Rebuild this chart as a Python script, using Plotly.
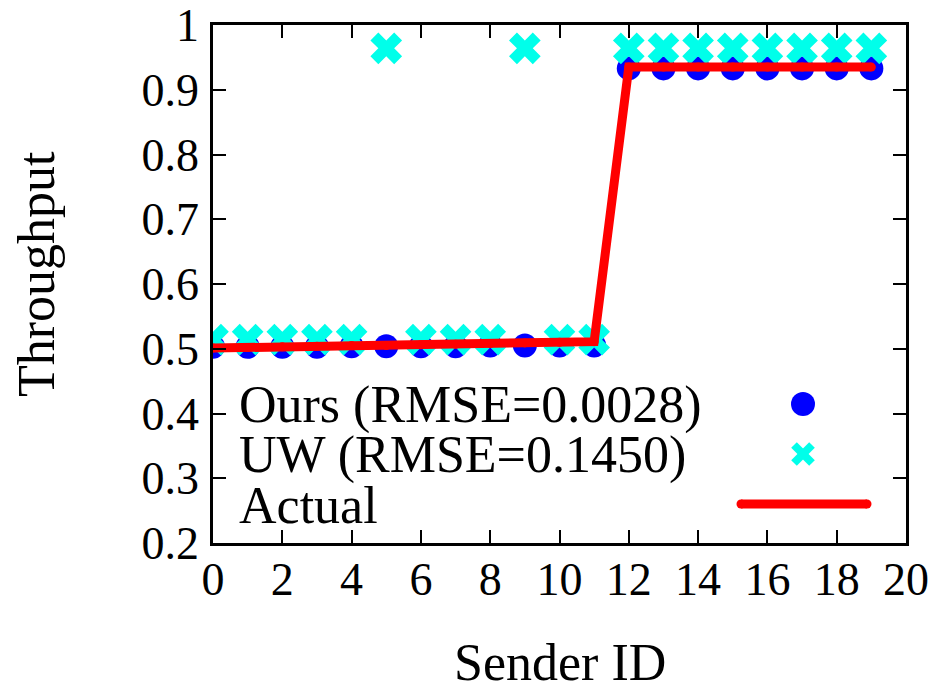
import plotly.graph_objects as go

sender_id = list(range(20))
ours = [0.503, 0.503, 0.503, 0.503, 0.504, 0.504, 0.504, 0.504, 0.505, 0.505, 0.505, 0.505,
        0.933, 0.933, 0.933, 0.933, 0.933, 0.933, 0.933, 0.933]
uw = [0.514, 0.514, 0.514, 0.514, 0.514, 0.964, 0.514, 0.514, 0.514, 0.964, 0.514, 0.514,
      0.964, 0.964, 0.964, 0.964, 0.964, 0.964, 0.964, 0.964]
actual = [0.501, 0.502, 0.503, 0.504, 0.505, 0.505, 0.506, 0.507, 0.508, 0.509, 0.510, 0.511,
          0.935, 0.935, 0.935, 0.935, 0.935, 0.935, 0.935, 0.935]
legend_labels = ["Ours (RMSE=0.0028)", "UW (RMSE=0.1450)", "Actual"]
x_title = "Sender ID"
y_title = "Throughput"
x_ticks = list(range(0, 21, 2))
y_ticks = [0.2, 0.3, 0.4, 0.5, 0.6, 0.7, 0.8, 0.9, 1.0]
y_tick_text = ["0.2", "0.3", "0.4", "0.5", "0.6", "0.7", "0.8", "0.9", "1"]

BLUE = "#0000FF"
CYAN = "#00FFEA"
RED = "#FF0000"
FONT = "'Liberation Serif', 'DejaVu Serif', serif"

fig = go.Figure()
fig.add_trace(go.Scatter(x=sender_id, y=ours, mode="markers", name=legend_labels[0],
                         marker=dict(symbol="circle", size=24, color=BLUE, line=dict(width=0))))
fig.add_trace(go.Scatter(x=sender_id, y=uw, mode="markers", name=legend_labels[1],
                         marker=dict(symbol="x", size=28, color=CYAN, line=dict(width=0))))
fig.add_trace(go.Scatter(x=sender_id, y=actual, mode="lines+markers", name=legend_labels[2],
                         line=dict(color=RED, width=9),
                         marker=dict(symbol="circle", size=9, color=RED, line=dict(width=0))))

W, H = 941, 691
L, R, T, B = 213, 35, 25, 148
pw, ph = W - L - R, H - T - B

def px(x):
    return (x - L) / pw

def py(y):
    return (H - B - y) / ph

rows_y = [404, 454, 504]
shapes = []
annotations = []
for lbl, yy in zip(legend_labels, rows_y):
    annotations.append(dict(text=lbl, xref="paper", yref="paper", x=px(237), y=py(yy + 1),
                            xanchor="left", yanchor="middle", showarrow=False,
                            font=dict(family=FONT, size=52, color="black")))
# axis titles
annotations.append(dict(text=x_title, xref="paper", yref="paper", x=px(560), y=py(662),
                        xanchor="center", yanchor="middle", showarrow=False,
                        font=dict(family=FONT, size=52, color="black")))
annotations.append(dict(text=y_title, xref="paper", yref="paper", x=px(36), y=py(274),
                        xanchor="center", yanchor="middle", showarrow=False, textangle=-90,
                        font=dict(family=FONT, size=52, color="black")))
# legend keys
shapes.append(dict(type="circle", xref="paper", yref="paper", x0=px(791), x1=px(815),
                   y0=py(rows_y[0] + 12), y1=py(rows_y[0] - 12), fillcolor=BLUE, line=dict(width=0)))
d = 9
for s in (1, -1):
    shapes.append(dict(type="line", xref="paper", yref="paper", x0=px(803 - d), x1=px(803 + d),
                       y0=py(rows_y[1] - s * d), y1=py(rows_y[1] + s * d),
                       line=dict(color=CYAN, width=8)))
shapes.append(dict(type="line", xref="paper", yref="paper", x0=px(741), x1=px(867),
                   y0=py(rows_y[2]), y1=py(rows_y[2]), line=dict(color=RED, width=9)))
for cx in (741, 867):
    shapes.append(dict(type="circle", xref="paper", yref="paper", x0=px(cx - 4.5), x1=px(cx + 4.5),
                       y0=py(rows_y[2] + 4.5), y1=py(rows_y[2] - 4.5), fillcolor=RED, line=dict(width=0)))

axis_common = dict(showgrid=False, zeroline=False, showline=True, linecolor="black", linewidth=2.5,
                   mirror="allticks", ticks="inside", ticklen=13, tickwidth=2, tickcolor="black",
                   automargin=False,
                   tickfont=dict(family=FONT, size=46, color="black"))

fig.update_layout(
    width=W, height=H,
    margin=dict(l=L, r=R, t=T, b=B),
    plot_bgcolor="white", paper_bgcolor="white",
    font=dict(family=FONT),
    showlegend=False,
    shapes=shapes, annotations=annotations,
    xaxis=dict(range=[0, 20], tickvals=x_ticks, ticklabelstandoff=-6, **axis_common),
    yaxis=dict(range=[0.2, 1.0], tickvals=y_ticks, ticktext=y_tick_text, ticklabelstandoff=2,
               **axis_common),
)

fig.write_html("out.html", config={"displayModeBar": False},
               post_script="document.body.style.margin='0';document.body.style.overflow='hidden';")
